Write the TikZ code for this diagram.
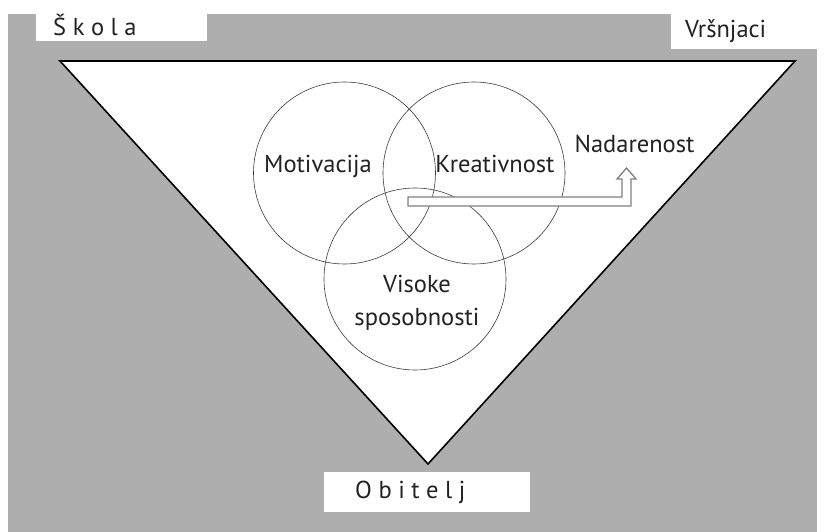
\documentclass[tikz,border=0pt]{standalone}
\usepackage{fontspec}
\setmainfont{PT Sans}
\usepackage{xcolor}
\usetikzlibrary{calc, positioning}
\definecolor{bggray}{HTML}{AEAEAE}
\definecolor{arrgray}{HTML}{808080}
\definecolor{circline}{HTML}{3A3A3A}
\definecolor{txtdark}{HTML}{222222}
\tikzset{
  %white label boxes on the gray field
  tagbox/.style={
    draw=none
    , fill=white
    , anchor=north west
    , inner sep=0pt
  },
  %circle of the venn part
  venn/.style={
    draw=circline
    , circle
    , line width=0.6pt
    , minimum size=182pt
    , inner sep=0pt
  },
}

\begin{document}
\begin{tikzpicture}[x=1pt,y=-1pt]
  \tikzstyle{lbl}=[inner sep=0pt, text=txtdark, font=\fontsize{24.5}{28}\selectfont]
  \tikzstyle{hollow}=[draw=arrgray, fill=white, line width=1.3pt, line join=miter]
  \useasboundingbox (0,0) rectangle (831,532);
  \fill [bggray] (8,14) rectangle (817,532);
%
  \node [tagbox, minimum width=171pt, minimum height=27pt] (skolabox) at (36,14) {};
  \node [tagbox, minimum width=146pt, minimum height=35pt] (vrsbox) at (671,14) {};
  \node [tagbox, minimum width=206pt, minimum height=40pt] (obitbox) at (324,472) {};
  \node [lbl, anchor=base west] (skola) at (53,36) {Š k o l a};
  \node [lbl, anchor=base west] (vrsnjaci) at (685,37.5) {Vršnjaci};
  \node [lbl, anchor=base west] (obitelj) at (355,498) {O b i t e l j};
%
  \draw [fill=white, line width=1.6pt, line join=miter] (60,61) coordinate (tl)
    -- (795,61) coordinate (tr) -- (428,464) coordinate (apex) -- cycle;
%
  \node [venn] (cmot) at (344.5,173) {};
  \node [venn] (ckre) at (474,173) {};
  \node [venn] (cvis) at (415,279) {};
  \node [lbl, anchor=base] (mot) at (318,173) {Motivacija};
  \node [lbl, anchor=base] (kre) at (495,173) {Kreativnost};
  \node [lbl, anchor=base] (vis) at (417,292.5) {Visoke};
  \node [lbl, anchor=base] (spo) at (417,325) {sposobnosti};
  \node [lbl, anchor=base] (nad) at (634.5,153) {Nadarenost};
%
  \coordinate (src) at (408,201.5);
  \draw [hollow] ([yshift=4.5pt]src) -- ++(214,0) -- ++(0,-18) -- ++(-5,0)
    -- ++(9.5,-11) -- ++(9.5,11) -- ++(-5,0) -- ++(0,27)
    -- ([yshift=-4.5pt]src) -- cycle;
\end{tikzpicture}
\end{document}
